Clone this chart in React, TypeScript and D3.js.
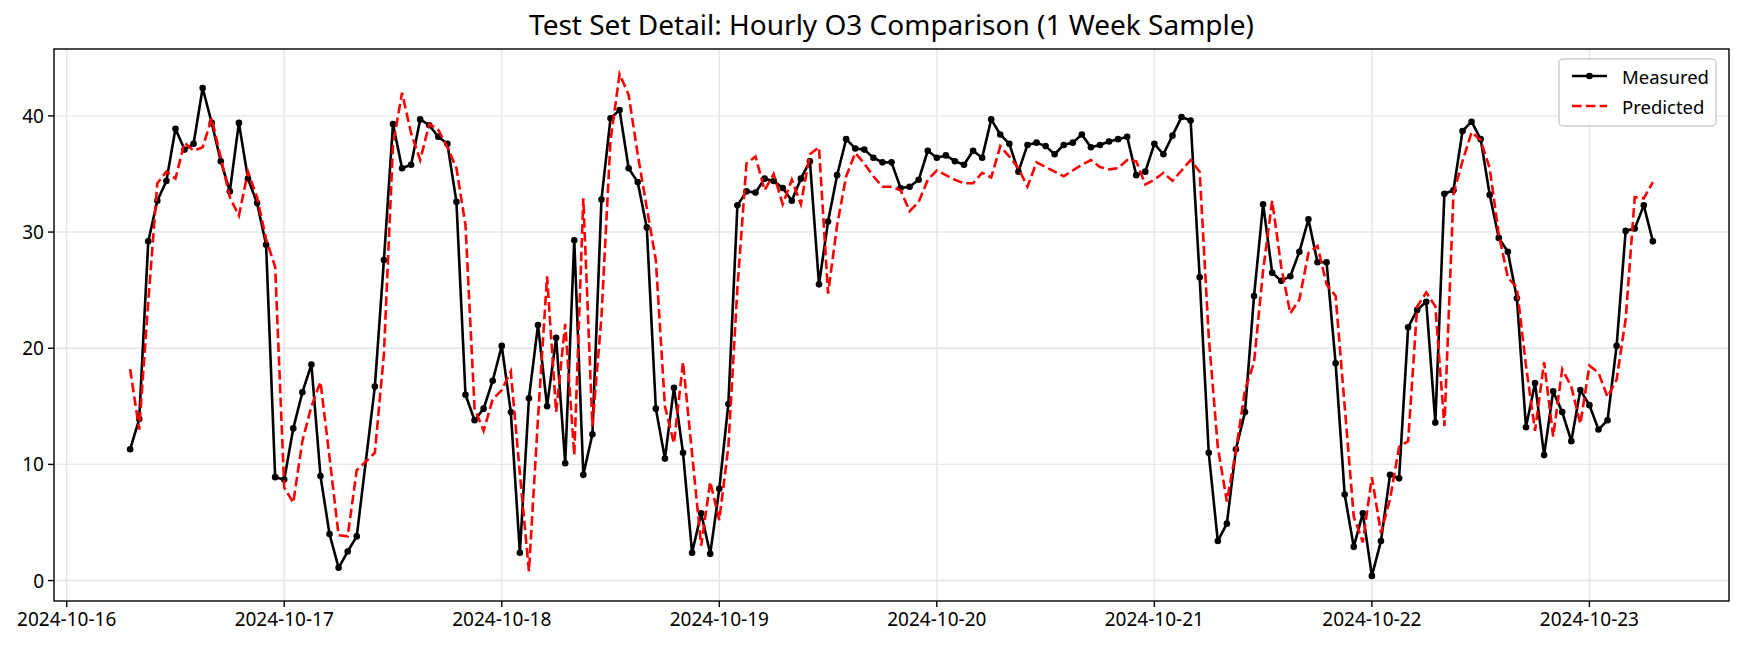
import React from "react";
import * as d3 from "d3";

// ---- data (hourly, UTC) ----
const startTime = "2024-10-16T07:00:00Z";
const endTime = "2024-10-23T07:00:00Z";
const missingHours = ["2024-10-17T09:00:00Z"];

const measured: number[] = [
  11.3, 13.9, 29.2, 32.7, 34.4, 38.9, 37.1, 37.6, 42.4, 39.4, 36.1, 33.5,
  39.4, 34.6, 32.5, 28.9, 8.9, 8.7, 13.1, 16.2, 18.6, 9.0, 4.0, 1.1, 2.5, 3.8,
  16.7, 27.6, 39.3, 35.5, 35.8, 39.7, 39.2, 38.2, 37.6, 32.6, 16.0, 13.8,
  14.8, 17.2, 20.2, 14.5, 2.4, 15.7, 22.0, 15.0, 20.9, 10.1, 29.3, 9.1,
  12.6, 32.8, 39.8, 40.5, 35.5, 34.3, 30.4, 14.8, 10.5, 16.6, 11.0, 2.4,
  5.8, 2.3, 7.9, 15.2, 32.3, 33.5, 33.4, 34.6, 34.4, 33.8, 32.7, 34.6,
  36.1, 25.5, 30.9, 34.9, 38.0, 37.2, 37.1, 36.4, 36.0, 36.0, 33.8, 33.9,
  34.5, 37.0, 36.4, 36.6, 36.1, 35.8, 37.0, 36.4, 39.7, 38.4, 37.6, 35.2,
  37.5, 37.7, 37.4, 36.7, 37.5, 37.7, 38.4, 37.3, 37.5, 37.8, 38.0, 38.2,
  34.9, 35.2, 37.6, 36.7, 38.3, 39.9, 39.6, 26.1, 11.0, 3.4, 4.9, 11.3,
  14.5, 24.5, 32.4, 26.5, 25.8, 26.2, 28.3, 31.1, 27.4, 27.4, 18.7, 7.4,
  2.9, 5.8, 0.4, 3.4, 9.1, 8.8, 21.8, 23.3, 24.0, 13.6, 33.3, 33.6,
  38.7, 39.5, 38.0, 33.2, 29.5, 28.3, 24.3, 13.2, 17.0, 10.8, 16.3, 14.5,
  12.0, 16.4, 15.1, 13.0, 13.8, 20.2, 30.1, 30.3, 32.3, 29.2,
];

const predicted: number[] = [
  18.2, 13.0, 24.0, 34.2, 35.2, 34.6, 37.7, 37.0, 37.3, 39.8, 36.4, 33.0,
  31.4, 35.2, 33.0, 29.4, 27.0, 8.0, 6.7, 12.0, 15.0, 17.1, 10.6, 3.9, 3.8, 9.5,
  11.0, 19.5, 37.5, 42.0, 38.5, 36.2, 39.3, 38.8, 37.3, 35.5, 30.6, 14.8,
  12.9, 15.6, 16.4, 18.0, 9.2, 0.8, 14.0, 26.2, 14.5, 22.1, 10.8, 32.9,
  13.3, 22.7, 37.9, 43.6, 41.8, 36.7, 32.1, 27.6, 15.0, 11.8, 18.8, 10.9,
  3.0, 8.5, 5.2, 11.5, 25.2, 35.9, 36.5, 33.6, 35.0, 32.4, 34.5, 32.4,
  36.7, 37.3, 24.7, 30.6, 34.8, 36.8, 35.9, 34.8, 33.9, 33.9, 33.6, 31.8,
  32.6, 34.5, 35.3, 34.9, 34.5, 34.2, 34.2, 35.1, 34.7, 37.4, 36.5, 35.5,
  33.9, 36.0, 35.6, 35.2, 34.8, 35.3, 35.8, 36.2, 35.6, 35.4, 35.5, 36.2,
  36.1, 34.1, 34.5, 35.1, 34.4, 35.3, 36.2, 35.2, 21.0, 11.5, 6.8, 11.2,
  16.4, 18.8, 26.7, 32.7, 27.0, 23.0, 24.2, 28.2, 28.8, 25.5, 24.5, 15.0,
  5.5, 3.3, 8.9, 4.1, 7.0, 11.5, 12.0, 23.6, 24.8, 23.6, 13.3, 33.3,
  36.1, 38.6, 37.9, 35.5, 29.8, 26.1, 25.2, 18.5, 12.9, 18.8, 12.4, 18.2,
  16.7, 13.5, 18.5, 17.9, 15.8, 17.3, 22.5, 33.0, 32.9, 34.3,
];

const yTicks = [0, 10, 20, 30, 40];
const titleText = "Test Set Detail: Hourly O3 Comparison (1 Week Sample)";
const seriesNames = ["Measured", "Predicted"];

// ---- layout ----
const W = 1742;
const H = 652;
const PL = 54;
const PR = 1729;
const PT = 49;
const PB = 601;
const FONT = "'Noto Sans', 'DejaVu Sans', sans-serif";

export default function App() {
  const t0 = new Date(startTime);
  const t1 = new Date(endTime);
  const missing = new Set(missingHours.map((s) => new Date(s).getTime()));
  const times = d3.utcHour
    .range(t0, new Date(t1.getTime() + 1))
    .filter((d) => !missing.has(d.getTime()));

  const mData = times.map((t, i) => ({ t, v: measured[i] }));
  const pData = times.map((t, i) => ({ t, v: predicted[i] }));

  const span = t1.getTime() - t0.getTime();
  const x = d3
    .scaleUtc()
    .domain([new Date(t0.getTime() - span * 0.05), new Date(t1.getTime() + span * 0.05)])
    .range([PL, PR]);

  const all = [...measured, ...predicted];
  const lo = d3.min(all)!;
  const hi = d3.max(all)!;
  const pad = (hi - lo) * 0.05;
  const y = d3.scaleLinear().domain([lo - pad, hi + pad]).range([PB, PT]);

  const line = d3
    .line<{ t: Date; v: number }>()
    .x((d) => x(d.t))
    .y((d) => y(d.v));

  const xTicks = d3.utcDay.range(d3.utcDay.floor(x.domain()[0]), x.domain()[1]).filter(
    (d) => x(d) >= PL && x(d) <= PR
  );
  const fmt = d3.utcFormat("%Y-%m-%d");

  const gridColor = "#e6e6e6";

  const LX = 1559;
  const LY = 59;
  const LW = 157;
  const LH = 67;
  const TICK_FS = 19;
  const LEG_FS = 18.5;

  return (
    <svg
      width={W}
      height={H}
      style={{ position: "absolute", left: 0, top: 0, background: "#fff" }}
      fontFamily={FONT}
    >
      <rect x={0} y={0} width={W} height={H} fill="#fff" />
      {/* grid */}
      {xTicks.map((d) => (
        <line key={"gx" + d.getTime()} x1={x(d)} x2={x(d)} y1={PT} y2={PB} stroke={gridColor} strokeWidth={1.4} />
      ))}
      {yTicks.map((v) => (
        <line key={"gy" + v} x1={PL} x2={PR} y1={y(v)} y2={y(v)} stroke={gridColor} strokeWidth={1.4} />
      ))}
      {/* series */}
      <path d={line(mData)!} fill="none" stroke="#000" strokeWidth={2.6} strokeLinejoin="round" />
      {mData.map((d, i) => (
        <circle key={"m" + i} cx={x(d.t)} cy={y(d.v)} r={3.3} fill="#000" />
      ))}
      <path d={line(pData)!} fill="none" stroke="#ff0000" strokeWidth={2.6} strokeDasharray="9.6,4.2" />
      {/* axes frame */}
      <rect x={PL} y={PT} width={PR - PL} height={PB - PT} fill="none" stroke="#000" strokeWidth={1.4} />
      {/* x ticks */}
      {xTicks.map((d) => (
        <g key={"xt" + d.getTime()}>
          <line x1={x(d)} x2={x(d)} y1={PB} y2={PB + 6} stroke="#000" strokeWidth={1.4} />
          <text x={x(d)} y={PB + 9} textAnchor="middle" dominantBaseline="hanging" fontSize={TICK_FS} fill="#000">
            {fmt(d)}
          </text>
        </g>
      ))}
      {/* y ticks */}
      {yTicks.map((v) => (
        <g key={"yt" + v}>
          <line x1={PL - 6} x2={PL} y1={y(v)} y2={y(v)} stroke="#000" strokeWidth={1.4} />
          <text x={PL - 10} y={y(v)} textAnchor="end" dominantBaseline="central" fontSize={TICK_FS} fill="#000">
            {v}
          </text>
        </g>
      ))}
      {/* title */}
      <text x={(PL + PR) / 2} y={35} textAnchor="middle" fontSize={28} fill="#000">
        {titleText}
      </text>
      {/* legend */}
      <rect x={LX} y={LY} width={LW} height={LH} rx={4} fill="#fff" fillOpacity={0.8} stroke="#cccccc" strokeWidth={1.4} />
      <line x1={LX + 13} x2={LX + 48} y1={LY + 17} y2={LY + 17} stroke="#000" strokeWidth={2.6} />
      <circle cx={LX + 30.5} cy={LY + 17} r={3.3} fill="#000" />
      <text x={LX + 63} y={LY + 17} dominantBaseline="central" fontSize={LEG_FS} fill="#000">
        {seriesNames[0]}
      </text>
      <line x1={LX + 13} x2={LX + 48} y1={LY + 47} y2={LY + 47} stroke="#ff0000" strokeWidth={2.6} strokeDasharray="9.6,4.2" />
      <text x={LX + 63} y={LY + 47} dominantBaseline="central" fontSize={LEG_FS} fill="#000">
        {seriesNames[1]}
      </text>
    </svg>
  );
}
